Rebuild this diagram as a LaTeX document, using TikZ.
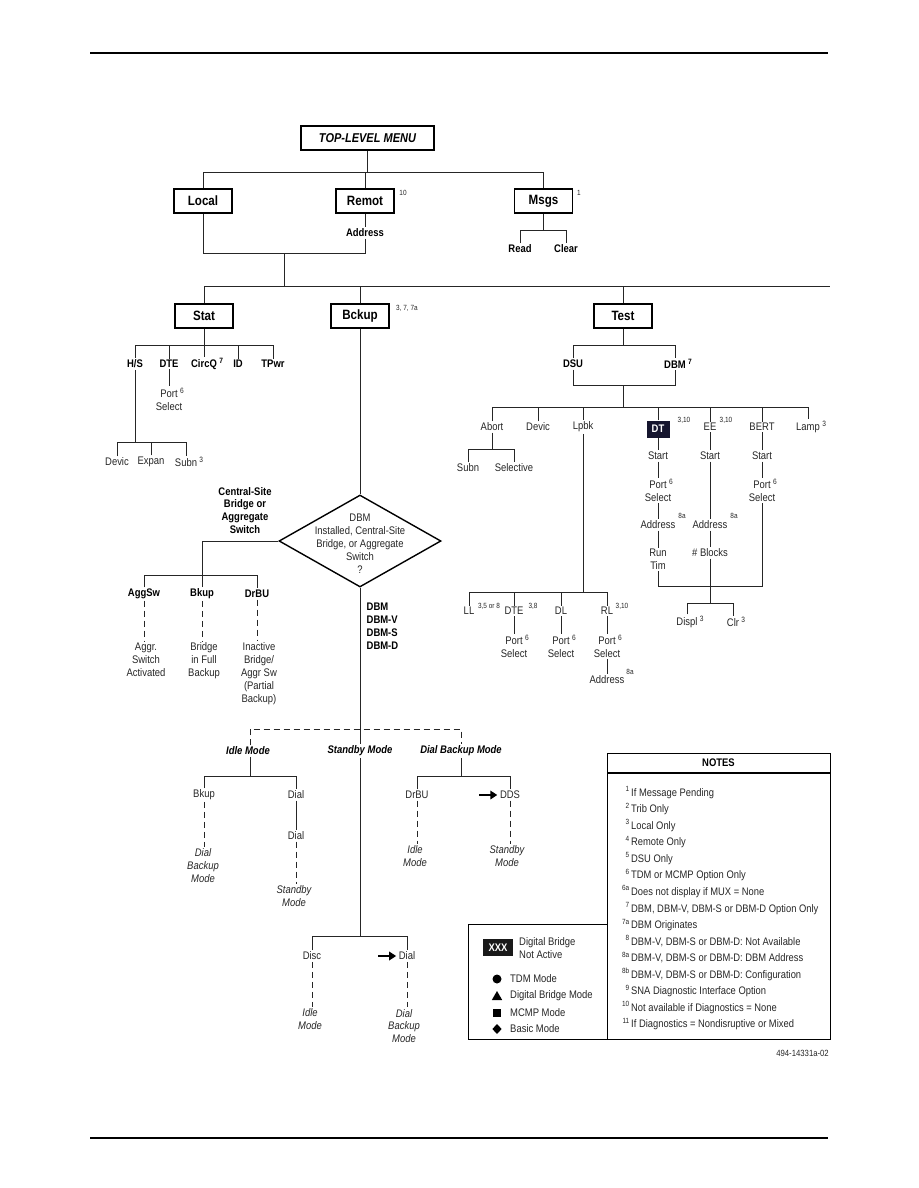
\documentclass[tikz,border=0pt]{standalone}
\usepackage{fontspec}
\setmainfont{Liberation Sans}[FakeStretch=0.86]
\usetikzlibrary{shapes.geometric,arrows.meta}
\definecolor{dtnavy}{HTML}{15152E}
\newcommand\supr[1]{\rlap{\hspace{0.22em}\textsuperscript{#1}}}
\begin{document}
\begin{tikzpicture}[x=1pt,y=-1pt,
  ln/.style={line width=0.9pt, draw=black!85},
  dln/.style={ln, dash pattern=on 6pt off 4pt},
  rule/.style={line width=1.2pt, draw=black},
  harrow/.style={line width=2.4pt, -{Triangle[length=7pt,width=8.5pt]}},
  mbox/.style={draw=black, line width=1.5pt, minimum width=58pt, minimum height=24pt, inner sep=0pt, font=\fontsize{13.5}{15}\selectfont\bfseries},
  lbl/.style={inner sep=1.5pt, align=center, text=black!85, font=\fontsize{11}{12.9}\selectfont},
  blbl/.style={inner sep=1.5pt, align=center, text=black, font=\fontsize{11}{12.9}\selectfont\bfseries},
  ilbl/.style={inner sep=1.5pt, align=center, text=black!85, font=\fontsize{11}{12.9}\selectfont\itshape},
  bilbl/.style={inner sep=1.5pt, align=center, text=black, font=\fontsize{11}{12.9}\selectfont\bfseries\itshape},
  sup/.style={inner sep=0pt, text=black!85, font=\fontsize{7.5}{8}\selectfont},
  note/.style={anchor=base west, inner sep=0pt, text=black!85, font=\fontsize{10.9}{12}\selectfont},
  notenum/.style={anchor=base east, inner sep=0pt, text=black!85, font=\fontsize{7.5}{8}\selectfont},
]
\useasboundingbox (0,0) rectangle (918,1188);

% page rules
\coordinate (r1a) at (90,53); \coordinate (r1b) at (828,53);
\coordinate (r2a) at (90,1138); \coordinate (r2b) at (828,1138);
\draw[rule] (r1a) -- (r1b);
\draw[rule] (r2a) -- (r2b);

% ---------- top level ----------
\node[mbox, minimum width=133pt, font=\fontsize{12.8}{15}\selectfont\bfseries\itshape] (top) at (367.5,138) {TOP-LEVEL MENU};
\node[mbox] (local) at (203,201) {Local};
\node[mbox] (remot) at (365,201) {Remot};
\node[sup] (remotsup) at (403,193) {10};
\node[mbox] (msgs) at (543.5,201) {Msgs};
\node[sup] (msgssup) at (579,193) {1};
\node[blbl] (addr) at (365,233) {Address};
\node[blbl] (read) at (520,249) {Read};
\node[blbl] (clear) at (566,249) {Clear};

\coordinate (b1) at (367.5,172);
\draw[ln] (top.south) -- (b1);
\draw[ln] (local.north) |- (msgs.north |- b1) -- (msgs.north);
\draw[ln] (remot.north) -- (remot.north |- b1);
\draw[ln] (remot.south) -- (addr.north);
\coordinate (b2) at (284,253);
\draw[ln] (addr.south) |- (local.south |- b2) -- (local.south);
\coordinate (b4) at (543.5,230);
\draw[ln] (msgs.south) -- (b4);
\draw[ln] (read.north) |- (clear.north |- b4) -- (clear.north);

% ---------- second level ----------
\coordinate (b3) at (284,286);
\coordinate (b3e) at (830,286);
\draw[ln] (b2) -- (b3);
\node[mbox] (stat) at (204,316) {Stat};
\node[mbox] (bckup) at (360,316) {Bckup};
\node[sup] (bckupsup) at (407,308) {3, 7, 7a};
\node[mbox] (test) at (623,316) {Test};
\draw[ln] (stat.north) |- (b3e);
\draw[ln] (bckup.north) -- (bckup.north |- b3e);
\draw[ln] (test.north) -- (test.north |- b3e);

% ---------- Stat ----------
\node[blbl] (hs) at (135,364) {H/S};
\node[blbl] (dte) at (169,364) {DTE};
\node[blbl] (circq) at (204,364) {CircQ\supr{7}};
\node[blbl] (id) at (238,364) {ID};
\node[blbl] (tpwr) at (273,364) {TPwr};
\coordinate (sb) at (204,345);
\draw[ln] (stat.south) -- (sb);
\draw[ln] (hs.north) |- (tpwr.north |- sb) -- (tpwr.north);
\draw[ln] (dte.north) -- (dte.north |- sb);
\draw[ln] (circq.north) -- (circq.north |- sb);
\draw[ln] (id.north) -- (id.north |- sb);
\node[lbl] (dteport) at (169,399) {Port\supr{6}\\Select};
\draw[ln] (dte.south) -- (dte.south |- dteport.north);
\node[lbl] (devic) at (117,462) {Devic};
\node[lbl] (expan) at (151,462) {Expan};
\node[lbl] (subn) at (186,462) {Subn\supr{3}};
\coordinate (hb) at (135,442);
\draw[ln] (hs.south) -- (hb);
\draw[ln] (devic.north) |- (subn.north |- hb) -- (subn.north);
\draw[ln] (expan.north) -- (expan.north |- hb);

% ---------- Bckup / diamond ----------
\node[diamond, draw=black, line width=1.4pt, minimum width=162pt, minimum height=92pt, inner sep=0pt] (dia) at (360,541) {};
\node[lbl] (diatxt) at (360,544) {DBM\\Installed, Central-Site\\Bridge, or Aggregate\\Switch\\?};
\draw[ln] (bckup.south) -- (dia.north);
\node[blbl] (csb) at (245,510.5) {Central-Site\\Bridge or\\Aggregate\\Switch};
\node[blbl] (aggsw) at (144,594) {AggSw};
\node[blbl] (bkup) at (202,594) {Bkup};
\node[blbl] (drbu) at (257,594) {DrBU};
\coordinate (lb) at (202,575);
\draw[ln] (dia.west) -| (lb);
\draw[ln] (aggsw.north) |- (drbu.north |- lb) -- (drbu.north);
\draw[ln] (bkup.north) -- (bkup.north |- lb);
\node[lbl, anchor=north] (aggtxt) at (146,641) {Aggr.\\Switch\\Activated};
\node[lbl, anchor=north] (bkuptxt) at (204,641) {Bridge\\in Full\\Backup};
\node[lbl, anchor=north] (drbutxt) at (259,641) {Inactive\\Bridge/\\Aggr Sw\\(Partial\\Backup)};
\draw[dln] (aggsw.south) -- (aggsw.south |- aggtxt.north);
\draw[dln] (bkup.south) -- (bkup.south |- bkuptxt.north);
\draw[dln] (drbu.south) -- (drbu.south |- drbutxt.north);
\node[blbl, align=left, anchor=west] (dbmlist) at (365,626.5) {DBM\\DBM-V\\DBM-S\\DBM-D};

% ---------- modes ----------
\node[bilbl] (idle) at (248,751) {Idle Mode};
\node[bilbl] (standby) at (360,751) {Standby Mode};
\node[bilbl] (dialbk) at (461,751) {Dial Backup Mode};
\coordinate (mb) at (360,729);
\coordinate (ib) at (250,776);
\coordinate (idtop) at (250,729);
\draw[ln] (dia.south) -- (standby.north);
\draw[dln] (idle.north -| ib) |- (dialbk.north |- mb) -- (dialbk.north);

% idle branch
\node[lbl] (bkup3) at (204,795) {Bkup};
\node[lbl] (dial1) at (296,795) {Dial};
\draw[ln] (idle.south -| ib) -- (ib);
\draw[ln] (bkup3.north) |- (dial1.north |- ib) -- (dial1.north);
\node[ilbl] (dbm1) at (203,865.5) {Dial\\Backup\\Mode};
\draw[dln] (bkup3.south) -- (bkup3.south |- dbm1.north);
\node[lbl] (dial2) at (296,836) {Dial};
\draw[ln] (dial1.south) -- (dial1.south |- dial2.north);
\node[ilbl] (sbm1) at (294,896) {Standby\\Mode};
\draw[dln] (dial2.south) -- (dial2.south |- sbm1.north);

% standby branch
\node[lbl] (disc) at (312,956) {Disc};
\node[lbl] (dial3) at (407,956) {Dial};
\draw[harrow] ([xshift=-19pt]dial3.west) -- ([xshift=-1pt]dial3.west);
\coordinate (stb) at (360,936);
\draw[ln] (standby.south) -- (stb);
\draw[ln] (disc.north) |- (dial3.north |- stb) -- (dial3.north);
\node[ilbl] (idm2) at (310,1019.5) {Idle\\Mode};
\draw[dln] (disc.south) -- (disc.south |- idm2.north);
\node[ilbl] (dbm2) at (404,1026) {Dial\\Backup\\Mode};
\draw[dln] (dial3.south) -- (dial3.south |- dbm2.north);

% dial backup branch
\node[lbl] (drbu2) at (417,795) {DrBU};
\node[lbl] (dds) at (510,795) {DDS};
\draw[harrow] ([xshift=-19pt]dds.west) -- ([xshift=-1pt]dds.west);
\coordinate (db) at (461,776);
\draw[ln] (dialbk.south) -- (db);
\draw[ln] (drbu2.north) |- (dds.north |- db) -- (dds.north);
\node[ilbl] (idm3) at (415,856.5) {Idle\\Mode};
\draw[dln] (drbu2.south) -- (drbu2.south |- idm3.north);
\node[ilbl] (sbm3) at (507,856.5) {Standby\\Mode};
\draw[dln] (dds.south) -- (dds.south |- sbm3.north);

% ---------- Test ----------
\node[blbl] (dsu) at (573,364) {DSU};
\node[blbl] (dbmt) at (675,364) {DBM\supr{7}};
\coordinate (tb1) at (623,345);
\draw[ln] (test.south) -- (tb1);
\draw[ln] (dsu.north) |- (dbmt.north |- tb1) -- (dbmt.north);
\coordinate (tb2) at (623,385);
\draw[ln] (dsu.south) |- (dbmt.south |- tb2) -- (dbmt.south);
\coordinate (tb3) at (623,407);
\draw[ln] (tb2) -- (tb3);

\node[lbl] (abort) at (492,427) {Abort};
\node[lbl] (devic2) at (538,427) {Devic};
\node[lbl] (lpbk) at (583,427) {Lpbk};
\node[fill=dtnavy, text=white, inner sep=0pt, minimum width=23pt, minimum height=17pt, font=\fontsize{11}{12}\selectfont\bfseries] (dt) at (658,429) {DT};
\node[sup] (dtsup) at (684,420) {3,10};
\node[lbl] (ee) at (710,427) {EE};
\node[sup] (eesup) at (726,420) {3,10};
\node[lbl] (bert) at (762,427) {BERT};
\node[lbl] (lamp) at (808,427) {Lamp\supr{3}};
\draw[ln] (abort.north) |- (lamp.north |- tb3) -- (lamp.north);
\draw[ln] (devic2.north) -- (devic2.north |- tb3);
\draw[ln] (lpbk.north) -- (lpbk.north |- tb3);
\draw[ln] (dt.north) -- (dt.north |- tb3);
\draw[ln] (ee.north) -- (ee.north |- tb3);
\draw[ln] (bert.north) -- (bert.north |- tb3);

% abort
\node[lbl] (subn2) at (468,468) {Subn};
\node[lbl] (selective) at (514,468) {Selective};
\coordinate (ab) at (492,449);
\draw[ln] (abort.south) -- (ab);
\draw[ln] (subn2.north) |- (selective.north |- ab) -- (selective.north);

% lpbk
\node[lbl] (ll) at (469,611) {LL};
\node[sup] (llsup) at (489,606) {3,5 or 8};
\node[lbl] (dte2) at (514,611) {DTE};
\node[sup] (dte2sup) at (533,606) {3,8};
\node[lbl] (dl) at (561,611) {DL};
\node[lbl] (rl) at (607,611) {RL};
\node[sup] (rlsup) at (622,606) {3,10};
\coordinate (lpb) at (583,592);
\draw[ln] (lpbk.south) -- (lpb);
\draw[ln] (ll.north) |- (rl.north |- lpb) -- (rl.north);
\draw[ln] (dte2.north) -- (dte2.north |- lpb);
\draw[ln] (dl.north) -- (dl.north |- lpb);
\node[lbl] (ps2) at (514,646.5) {Port\supr{6}\\Select};
\node[lbl] (ps3) at (561,646.5) {Port\supr{6}\\Select};
\node[lbl] (ps4) at (607,646.5) {Port\supr{6}\\Select};
\draw[ln] (dte2.south) -- (dte2.south |- ps2.north);
\draw[ln] (dl.south) -- (dl.south |- ps3.north);
\draw[ln] (rl.south) -- (rl.south |- ps4.north);
\node[lbl] (addr4) at (607,680) {Address};
\node[sup] (addr4sup) at (630,672) {8a};
\draw[ln] (ps4.south) -- (ps4.south |- addr4.north);

% DT chain
\node[lbl] (start1) at (658,456) {Start};
\node[lbl] (port1) at (658,490.5) {Port\supr{6}\\Select};
\node[lbl] (addr1) at (658,525) {Address};
\node[sup] (addr1sup) at (682,516) {8a};
\node[lbl] (run) at (658,559.5) {Run\\Tim};
\draw[ln] (dt.south) -- (dt.south |- start1.north);
\draw[ln] (start1.south) -- (start1.south |- port1.north);
\draw[ln] (port1.south) -- (port1.south |- addr1.north);
\draw[ln] (addr1.south) -- (addr1.south |- run.north);

% EE chain
\node[lbl] (start2) at (710,456) {Start};
\node[lbl] (addr2) at (710,525) {Address};
\node[sup] (addr2sup) at (734,516) {8a};
\node[lbl] (blocks) at (710,553) {\# Blocks};
\draw[ln] (ee.south) -- (ee.south |- start2.north);
\draw[ln] (start2.south) -- (start2.south |- addr2.north);
\draw[ln] (addr2.south) -- (addr2.south |- blocks.north);

% BERT chain
\node[lbl] (start3) at (762,456) {Start};
\node[lbl] (port3) at (762,490.5) {Port\supr{6}\\Select};
\draw[ln] (bert.south) -- (bert.south |- start3.north);
\draw[ln] (start3.south) -- (start3.south |- port3.north);

\coordinate (eb) at (710,586);
\draw[ln] (run.south) |- (port3.south |- eb) -- (port3.south);
\coordinate (eb2) at (710,603);
\draw[ln] (blocks.south) -- (eb2);
\node[lbl] (displ) at (687,622) {Displ\supr{3}};
\node[lbl] (clr) at (733,622) {Clr\supr{3}};
\draw[ln] (displ.north) |- (clr.north |- eb2) -- (clr.north);

% ---------- notes ----------
\node[draw=black, line width=1.3pt, anchor=north west, minimum width=223pt, minimum height=286pt, inner sep=0pt] (notes) at (607,753) {};
\coordinate (nh) at (607,773);
\draw[line width=1.1pt] (nh) -- (notes.east |- nh);
\node[blbl] (notestitle) at (718.5,763) {NOTES};
\foreach \n/\t [count=\i] in {
  1/{If Message Pending},
  2/{Trib Only},
  3/{Local Only},
  4/{Remote Only},
  5/{DSU Only},
  6/{TDM or MCMP Option Only},
  6a/{Does not display if MUX = None},
  7/{DBM, DBM-V, DBM-S or DBM-D Option Only},
  7a/{DBM Originates},
  8/{DBM-V, DBM-S or DBM-D: Not Available},
  8a/{DBM-V, DBM-S or DBM-D: DBM Address},
  8b/{DBM-V, DBM-S or DBM-D: Configuration},
  9/{SNA Diagnostic Interface Option},
  10/{Not available if Diagnostics = None},
  11/{If Diagnostics = Nondisruptive or Mixed}} {
  \pgfmathsetmacro\yy{796+(\i-1)*16.57}
  \node[note] (note\i) at (631,\yy) {\t};
  \node[notenum] (noten\i) at (629.5,\yy-4.5) {\n};
}

% ---------- legend ----------
\node[draw=black, line width=1.3pt, anchor=north west, minimum width=139pt, minimum height=115pt, inner sep=0pt] (legend) at (468,924) {};
\node[fill=black!90, text=white, inner sep=0pt, minimum width=30pt, minimum height=17pt, font=\fontsize{11}{12}\selectfont\bfseries] (xxx) at (498,947.5) {XXX};
\node[lbl, align=left, anchor=west, inner sep=0pt] (dbna) at (519,948) {Digital Bridge\\Not Active};
\node[circle, fill=black, minimum size=9pt, inner sep=0pt] (mk1) at (497,979) {};
\node[regular polygon, regular polygon sides=3, fill=black, minimum size=12pt, inner sep=0pt] (mk2) at (497,997) {};
\node[fill=black, minimum size=8.5pt, inner sep=0pt] (mk3) at (497,1013) {};
\node[diamond, fill=black, minimum width=9.5pt, minimum height=10pt, inner sep=0pt] (mk4) at (497,1029) {};
\node[lbl, anchor=west, inner sep=0pt] (tdm) at (510,979) {TDM Mode};
\node[lbl, anchor=west, inner sep=0pt] (dbmode) at (510,996) {Digital Bridge Mode};
\node[lbl, anchor=west, inner sep=0pt] (mcmp) at (510,1013) {MCMP Mode};
\node[lbl, anchor=west, inner sep=0pt] (basic) at (510,1029) {Basic Mode};

\node[lbl, anchor=east, inner sep=0pt, font=\fontsize{9}{10}\selectfont] (fig) at (829,1053) {494-14331a-02};
\end{tikzpicture}
\end{document}
